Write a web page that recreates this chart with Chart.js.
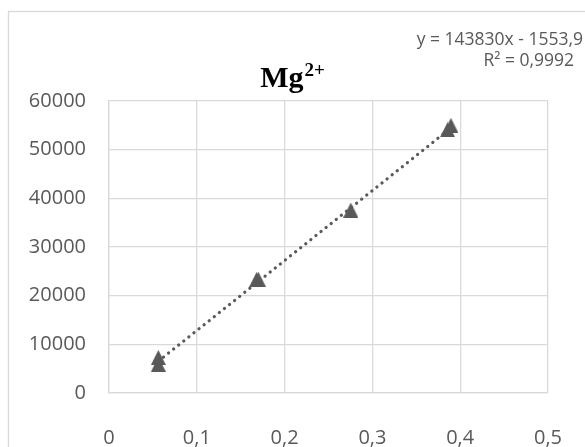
<!DOCTYPE html>
<html lang="es">
<head>
<meta charset="UTF-8" />
<title>Mg2+ calibración</title>
<script src="https://cdn.jsdelivr.net/npm/chart.js"></script>
<style>
  html, body { margin: 0; padding: 0; background: #fff; }
  #wrap { width: 585px; height: 447px; position: relative; }
</style>
</head>
<body>
<div id="wrap"><canvas id="calChart" width="585" height="447"></canvas></div>

<script>
  // concentración (x) y señal (y) de los patrones
  const concValues = [0.0562, 0.0562, 0.168, 0.170, 0.2754, 0.3856, 0.3894];
  const signalValues = [7300, 5900, 23300, 23400, 37600, 54100, 55000];

  // línea de tendencia (de la etiqueta de la ecuación)
  const slope = 143830;
  const intercept = -1553.9;
  const eqText = 'y = 143830x - 1553,9';
  const r2Text = 'R² = 0,9992';

  const xTicks = [0, 0.1, 0.2, 0.3, 0.4, 0.5];
  const yTicks = [0, 10000, 20000, 30000, 40000, 50000, 60000];

  const GREY = '#595959';
  const GRID = '#d9d9d9';

  // marcador triangular centrado en su caja
  function makeTriangle(w, h) {
    const c = document.createElement('canvas');
    c.width = w; c.height = h;
    const g = c.getContext('2d');
    g.fillStyle = GREY;
    g.beginPath();
    g.moveTo(w / 2, 0);
    g.lineTo(w, h);
    g.lineTo(0, h);
    g.closePath();
    g.fill();
    return c;
  }
  const tri = makeTriangle(15, 15);

  const points = concValues.map((x, i) => ({ x: x, y: signalValues[i] }));
  const xMin = Math.min(...concValues);
  const xMax = Math.max(...concValues);
  const trend = [xMin, xMax].map(x => ({ x: x, y: slope * x + intercept }));

  const fmt = v => v === 0 ? '0' : v.toFixed(1).replace('.', ',');

  const frame = {
    id: 'frame',
    beforeDraw(chart) {
      const c = chart.ctx;
      c.save();
      c.fillStyle = '#fff';
      c.fillRect(0, 0, chart.width, chart.height);
      c.strokeStyle = GRID;
      c.lineWidth = 1.3;
      c.strokeRect(8.5, 11.5, 700, 600);
      c.restore();
    },
    afterDraw(chart) {
      const c = chart.ctx;
      c.save();
      // título con superíndice
      c.fillStyle = '#000';
      c.textBaseline = 'alphabetic';
      c.font = 'bold 30px "Liberation Serif"';
      const mainW = c.measureText('Mg').width;
      c.font = 'bold 19px "Liberation Serif"';
      const supW = c.measureText('2+').width;
      const x0 = 292 - (mainW + supW) / 2;
      c.font = 'bold 30px "Liberation Serif"';
      c.fillText('Mg', x0, 87);
      c.font = 'bold 19px "Liberation Serif"';
      c.fillText('2+', x0 + mainW + 1, 76);
      // ecuación de la tendencia
      c.fillStyle = GREY;
      c.font = '17.5px "Open Sans"';
      c.textAlign = 'right';
      c.textBaseline = 'middle';
      c.fillText(eqText, 583, 40);
      c.fillText(r2Text, 574, 61);
      c.restore();
    }
  };

  new Chart(document.getElementById('calChart'), {
    type: 'scatter',
    data: {
      datasets: [
        {
          label: 'Mg2+',
          data: points,
          pointStyle: tri,
          pointRadius: 8,
          backgroundColor: GREY,
          borderColor: GREY
        },
        {
          label: 'Lineal',
          data: trend,
          showLine: true,
          pointRadius: 0,
          borderColor: GREY,
          borderWidth: 3.2,
          borderDash: [0.1, 6.4],
          borderCapStyle: 'round'
        }
      ]
    },
    options: {
      responsive: false,
      animation: false,
      layout: { padding: { left: 0, top: 101, right: 37, bottom: 0 } },
      plugins: {
        legend: { display: false },
        title: { display: false },
        tooltip: { enabled: false }
      },
      scales: {
        x: {
          type: 'linear',
          min: 0,
          max: 0.5,
          afterBuildTicks: s => { s.ticks = xTicks.map(v => ({ value: v })); },
          afterFit: s => {
            s.height = 54;
            // el padding de las etiquetas no debe estrechar el área
            s.paddingLeft = 0;
            s.paddingRight = 0;
          },
          grid: { color: GRID, lineWidth: 1.3, drawTicks: false },
          border: { color: GRID, width: 1.3 },
          ticks: {
            padding: 33,
            color: GREY,
            font: { family: 'Open Sans', size: 20 },
            callback: v => fmt(v)
          }
        },
        y: {
          type: 'linear',
          min: 0,
          max: 60000,
          afterBuildTicks: s => { s.ticks = yTicks.map(v => ({ value: v })); },
          afterFit: s => { s.width = 109; },
          grid: { color: GRID, lineWidth: 1.3, drawTicks: false },
          border: { color: GRID, width: 1.3 },
          ticks: {
            padding: 23,
            color: GREY,
            font: { family: 'Open Sans', size: 20 },
            callback: v => String(v)
          }
        }
      }
    },
    plugins: [frame]
  });
</script>
</body>
</html>
